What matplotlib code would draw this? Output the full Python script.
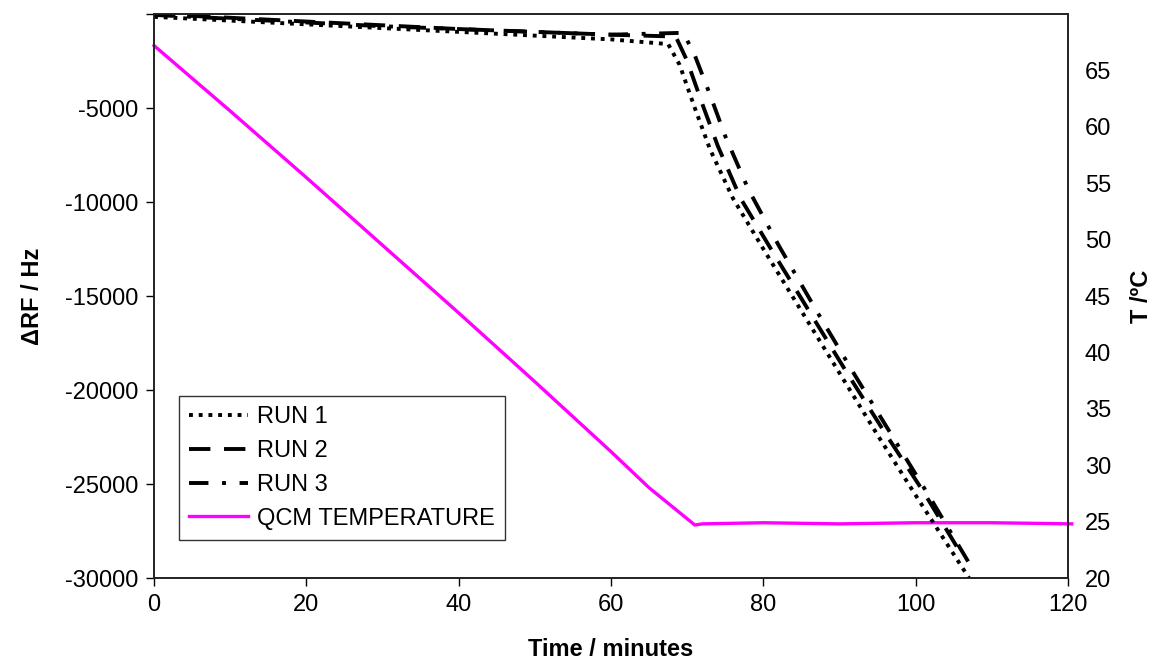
import matplotlib.pyplot as plt

plt.rcParams['font.family'] = ['Liberation Sans', 'DejaVu Sans']

# ----- data -----
run1_t = [0, 10, 20, 30, 40, 50, 60, 67.5, 69, 71, 73, 76, 80, 85, 90, 95, 100, 107]
run1_f = [-150, -350, -550, -750, -950, -1150, -1350, -1600, -2700, -5000, -7200, -9800,
          -12500, -15800, -19100, -22400, -25600, -30000]

run2_t = [0, 10, 20, 30, 40, 50, 60, 68.5, 70, 72, 74, 77, 81, 86, 91, 96, 101, 105.5]
run2_f = [0, -200, -400, -600, -800, -950, -1100, -1200, -2500, -4800, -7000, -9800,
          -12500, -15800, -19100, -22300, -25400, -28400]

run3_t = [0, 10, 20, 30, 40, 50, 60, 69.5, 71, 73, 75, 78, 82, 87, 92, 97, 102, 107]
run3_f = [-50, -250, -450, -650, -800, -950, -1100, -1000, -2200, -4300, -6500, -9300,
          -12300, -15800, -19200, -22500, -25800, -29200]

temp_t = [0, 10, 20, 30, 40, 50, 60, 65, 67, 69, 71, 72, 80, 90, 100, 110, 120.5]
temp_c = [67.2, 61.4, 55.5, 49.5, 43.5, 37.4, 31.2, 28.0, 26.9, 25.8, 24.7, 24.8, 24.9,
          24.8, 24.9, 24.9, 24.8]

# ------ Set up figure layout --------
fig = plt.figure(figsize=(11.6, 6.64), dpi=100)
ax1 = fig.add_axes([0.1328, 0.1295, 0.7879, 0.8494])
ax2 = ax1.twinx()

# ----- Add data -----
l1, = ax1.plot(run1_t, run1_f, color='black', lw=2.8, linestyle=(0, (1, 1.5)), label='RUN 1')
l2, = ax1.plot(run2_t, run2_f, color='black', lw=2.8, linestyle=(0, (5.5, 3.5)), label='RUN 2')
l3, = ax1.plot(run3_t, run3_f, color='black', lw=2.8, linestyle=(0, (5, 3.5, 1, 3.5)), label='RUN 3')
l4, = ax2.plot(temp_t, temp_c, color='#FF00FF', lw=2.4, label='QCM TEMPERATURE', clip_on=False)

# ------ Axes --------
ax1.set_xlim(0, 120)
ax1.set_ylim(-30000, 0)
ax2.set_ylim(20, 70)

ax1.set_xticks([0, 20, 40, 60, 80, 100, 120])
ax1.set_yticks([-30000, -25000, -20000, -15000, -10000, -5000, 0])
ax1.set_yticklabels(['-30000', '-25000', '-20000', '-15000', '-10000', '-5000', ''])
ax2.set_yticks([20, 25, 30, 35, 40, 45, 50, 55, 60, 65])

fs = 17
ax1.tick_params(axis='both', direction='out', length=5.5, width=1, labelsize=fs, pad=6)
ax2.tick_params(axis='y', length=0, labelsize=fs, pad=12)

for ax in (ax1, ax2):
    for s in ax.spines.values():
        s.set_color('#222222')
        s.set_linewidth(1.2)

ax1.set_xlabel('Time / minutes', fontsize=fs, fontweight='bold', labelpad=16)
ax1.set_ylabel('ΔRF / Hz', fontsize=fs, fontweight='bold', labelpad=15)
ax2.set_ylabel('T /ºC', fontsize=fs, fontweight='bold', labelpad=14)

leg = ax1.legend(handles=[l1, l2, l3, l4], loc='lower left', bbox_to_anchor=(0.027, 0.067),
                 fontsize=fs, frameon=True, fancybox=False, handlelength=2.5,
                 handletextpad=0.35, borderaxespad=0, borderpad=0.45, labelspacing=0.5)
leg.get_frame().set_edgecolor('black')
leg.get_frame().set_linewidth(1)
ax1.set_zorder(ax2.get_zorder() + 1)
ax1.patch.set_visible(False)

plt.savefig('out.png')
